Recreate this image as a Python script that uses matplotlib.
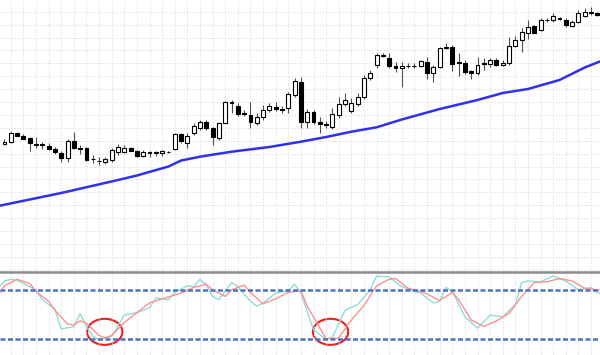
import numpy as np
import matplotlib
matplotlib.use("Agg")
from matplotlib import pyplot as plt
from matplotlib.patches import Ellipse

# OHLC prices, one entry per bar
opens = [155.7, 157.7, 166.7, 164.3, 161.7, 156.0, 156.0, 154.3, 151.3, 147.3,
         141.7, 159.0, 151.7, 151.7, 141.5, 139.5, 137.7, 140.0, 148.3, 148.3,
         151.7, 149.0, 144.3, 147.3, 147.3, 146.7, 148.3, 151.0, 165.7, 157.3,
         166.7, 171.7, 178.3, 171.7, 161.7, 177.3, 197.3, 194.0, 187.0, 185.0,
         177.3, 182.7, 190.0, 192.7, 191.0, 191.7, 205.0, 218.3, 178.3, 187.7,
         178.3, 176.0, 173.3, 185.5, 196.0, 189.5, 196.0, 203.0, 221.7, 235.0,
         244.0, 241.7, 234.0, 231.7, 234.3, 234.3, 234.0, 238.3, 226.7, 233.3,
         251.7, 253.3, 238.3, 237.3, 229.0, 226.7, 237.0, 236.0, 240.0, 235.0,
         236.7, 254.0, 260.0, 267.3, 274.0, 270.0, 280.3, 279.7, 282.0, 280.0,
         274.0, 278.3, 284.5, 287.7, 286.7]
highs = [161.0, 169.3, 167.7, 165.7, 163.3, 163.3, 158.3, 156.7, 153.3, 149.3,
         161.0, 168.3, 155.0, 152.7, 145.0, 143.0, 142.7, 151.7, 155.7, 155.0,
         152.7, 150.0, 150.0, 149.3, 149.0, 150.0, 148.7, 166.7, 166.7, 166.7,
         176.7, 180.0, 180.0, 173.3, 178.0, 199.3, 199.7, 196.7, 190.0, 198.3,
         186.7, 195.0, 196.7, 198.0, 194.0, 208.3, 222.0, 223.3, 191.0, 190.0,
         183.0, 179.0, 192.0, 203.0, 207.3, 202.0, 207.0, 225.0, 230.0, 246.7,
         247.0, 246.7, 238.0, 238.3, 237.3, 237.0, 240.0, 242.7, 235.0, 253.3,
         256.7, 255.0, 246.7, 240.0, 230.0, 243.3, 241.7, 241.7, 241.7, 240.0,
         263.3, 264.0, 271.7, 280.0, 275.0, 281.7, 281.7, 286.7, 283.3, 281.7,
         280.0, 290.0, 291.7, 293.3, 288.0]
lows = [155.0, 157.5, 163.7, 161.0, 149.0, 151.7, 151.0, 150.0, 145.7, 138.3,
        138.3, 150.7, 146.0, 139.3, 136.7, 135.0, 136.0, 138.3, 145.0, 146.7,
        149.0, 143.3, 143.3, 143.3, 144.0, 144.3, 147.3, 150.0, 156.7, 151.7,
        165.0, 170.0, 170.0, 155.0, 160.0, 176.7, 187.0, 184.3, 184.0, 171.7,
        175.0, 180.0, 188.0, 189.0, 187.0, 186.7, 203.0, 171.7, 172.0, 176.0,
        167.0, 172.0, 171.0, 182.0, 194.5, 187.0, 194.0, 201.5, 220.0, 232.0,
        243.0, 231.7, 228.3, 213.3, 231.7, 232.0, 233.5, 220.7, 218.3, 231.7,
        251.3, 229.3, 224.0, 226.0, 220.7, 225.0, 230.0, 233.3, 234.0, 234.0,
        235.0, 253.3, 248.3, 260.7, 266.7, 269.3, 278.3, 278.3, 280.0, 273.3,
        272.7, 276.7, 283.3, 285.0, 284.0]
closes = [158.3, 166.7, 164.3, 161.3, 156.7, 155.3, 155.3, 151.0, 148.3, 142.3,
          159.0, 151.7, 150.7, 140.0, 140.7, 138.7, 141.0, 150.0, 153.3, 152.3,
          149.3, 144.0, 148.3, 148.0, 148.0, 149.0, 147.7, 165.7, 159.0, 164.3,
          174.0, 178.3, 171.7, 162.7, 177.3, 198.3, 198.0, 186.0, 186.3, 177.7,
          183.3, 190.0, 194.3, 190.7, 190.3, 205.7, 219.0, 178.3, 187.7, 178.3,
          176.3, 174.7, 186.0, 196.0, 200.0, 197.5, 203.0, 221.7, 227.3, 245.0,
          244.7, 233.7, 232.5, 234.0, 233.7, 233.7, 239.0, 226.7, 233.3, 251.7,
          253.3, 236.0, 236.7, 228.3, 227.3, 235.0, 236.3, 240.0, 235.0, 237.3,
          254.0, 260.0, 268.3, 273.3, 267.3, 280.0, 279.7, 284.5, 281.3, 275.0,
          278.3, 287.3, 288.3, 287.0, 285.0]

# moving average (read at selected bars)
ma_bar = [-1, 9, 18, 21, 26, 28, 31, 36, 42, 47, 51, 55, 59, 63, 69, 75, 79, 83, 88, 92, 95]
ma_val = [94, 107, 120, 124.5, 133.5, 139.5, 143.3, 148.3, 153, 158.3, 163, 168.3,
          172.7, 180.5, 191, 200, 207, 211, 220, 232.5, 240]

# stochastic %K (cyan) and %D (red)
k_bar = [-1, 0, 1, 2, 5, 6, 8, 9, 11, 12, 13, 14, 15, 17, 19, 21, 23, 24, 26, 27,
         29, 30, 31, 32, 33, 34, 36, 37, 39, 40, 41, 43, 45, 46, 47, 49, 51, 52, 54,
         56, 58, 59, 61, 63, 65, 66, 68, 69, 70, 71, 73, 75, 77, 79, 81, 82, 83, 85,
         87, 89, 91, 93, 94, 95]
k_val = [82, 91, 93, 92, 80, 68, 56, 32, 35, 51, 35, 23, 19, 23, 49, 52, 58, 70, 68, 77,
         85, 84, 93, 86, 72, 68, 89, 84, 66, 60, 64, 76, 79, 87, 76, 31, 19, 22, 55,
         62, 80, 97, 96, 84, 78, 76, 64, 66, 83, 78, 47, 33, 49, 47, 62, 89, 91, 90,
         97, 91, 80, 83, 77, 74]
d_bar = [-1, 0, 2, 4, 5, 7, 8, 10, 11, 12, 13, 15, 16, 17, 19, 21, 23, 25, 28, 30,
         32, 33, 35, 36, 38, 39, 41, 43, 45, 47, 48, 50, 51, 53, 55, 57, 59, 61, 62,
         64, 66, 67, 69, 71, 72, 74, 76, 78, 80, 82, 84, 86, 88, 90, 92, 94, 95]
d_val = [74, 85, 93, 88, 78, 66, 55, 38, 37, 42, 39, 24, 21, 24, 40, 52, 64, 69, 76, 83,
         87, 80, 72, 80, 86, 77, 63, 69, 77, 79, 60, 33, 20, 21, 43, 61, 85, 93, 94,
         82, 78, 75, 67, 77, 68, 43, 35, 42, 51, 72, 89, 90, 94, 91, 82, 80, 79]

levels = [80, 20]
marked_bars = [15.9, 51.7]

n = len(opens)
x = np.arange(n)
o = np.array(opens); c = np.array(closes)
up = c >= o

fig = plt.figure(figsize=(6, 3.55), dpi=100)
ax = fig.add_axes([0, 83 / 355, 1, 272 / 355])
ax2 = fig.add_axes([0, 0, 1, 83 / 355])

grid_kw = dict(color='#dcdcdc', linestyle=(0, (1, 1.5)), linewidth=0.8)
x_lim = (-0.71, 94.42)

# price panel
ax.vlines(x, lows, highs, color='#505050', linewidth=0.8, zorder=2)
body_h = np.maximum(np.abs(c - o), 0.6)
body_b = np.minimum(o, c)
ax.bar(x[up], body_h[up], bottom=body_b[up], width=0.62, facecolor='white',
       edgecolor='black', linewidth=0.8, zorder=3)
ax.bar(x[~up], body_h[~up], bottom=body_b[~up], width=0.62, facecolor='black',
       edgecolor='black', linewidth=0.8, zorder=3)
ax.plot(ma_bar, ma_val, color='#3030ee', linewidth=1.8, zorder=4)
ax.set_xlim(x_lim)
ax.set_ylim(28, 300)
ax.set_xticks(np.arange(1, 95, 2))
ax.set_yticks(288.3 - 12.9 * np.arange(21))
ax.grid(True, **grid_kw)
ax.tick_params(length=0, labelbottom=False, labelleft=False)
for s in ax.spines.values():
    s.set_visible(False)

# oscillator panel
ax2.plot(k_bar, k_val, color='#8fdcd8', linewidth=1.0)
ax2.plot(d_bar, d_val, color='#ff9090', linewidth=1.0)
for lv in levels:
    ax2.axhline(lv, color='#4a70c8', linewidth=1.8, dashes=(2, 1))
for mb in marked_bars:
    ax2.add_patch(Ellipse((mb, 28.5), 5.6, 32, fill=False, edgecolor='#e82020', linewidth=1.5))
ax2.set_xlim(x_lim)
ax2.set_ylim(0, 102)
ax2.set_xticks(np.arange(1, 95, 2))
ax2.set_yticks([])
ax2.grid(True, axis='x', **grid_kw)
ax2.tick_params(length=0, labelbottom=False, labelleft=False)
for s in ['left', 'right', 'bottom']:
    ax2.spines[s].set_visible(False)
ax2.spines['top'].set_color('#8c8c8c')
ax2.spines['top'].set_linewidth(1.8)

plt.savefig('out.png', dpi=100)
